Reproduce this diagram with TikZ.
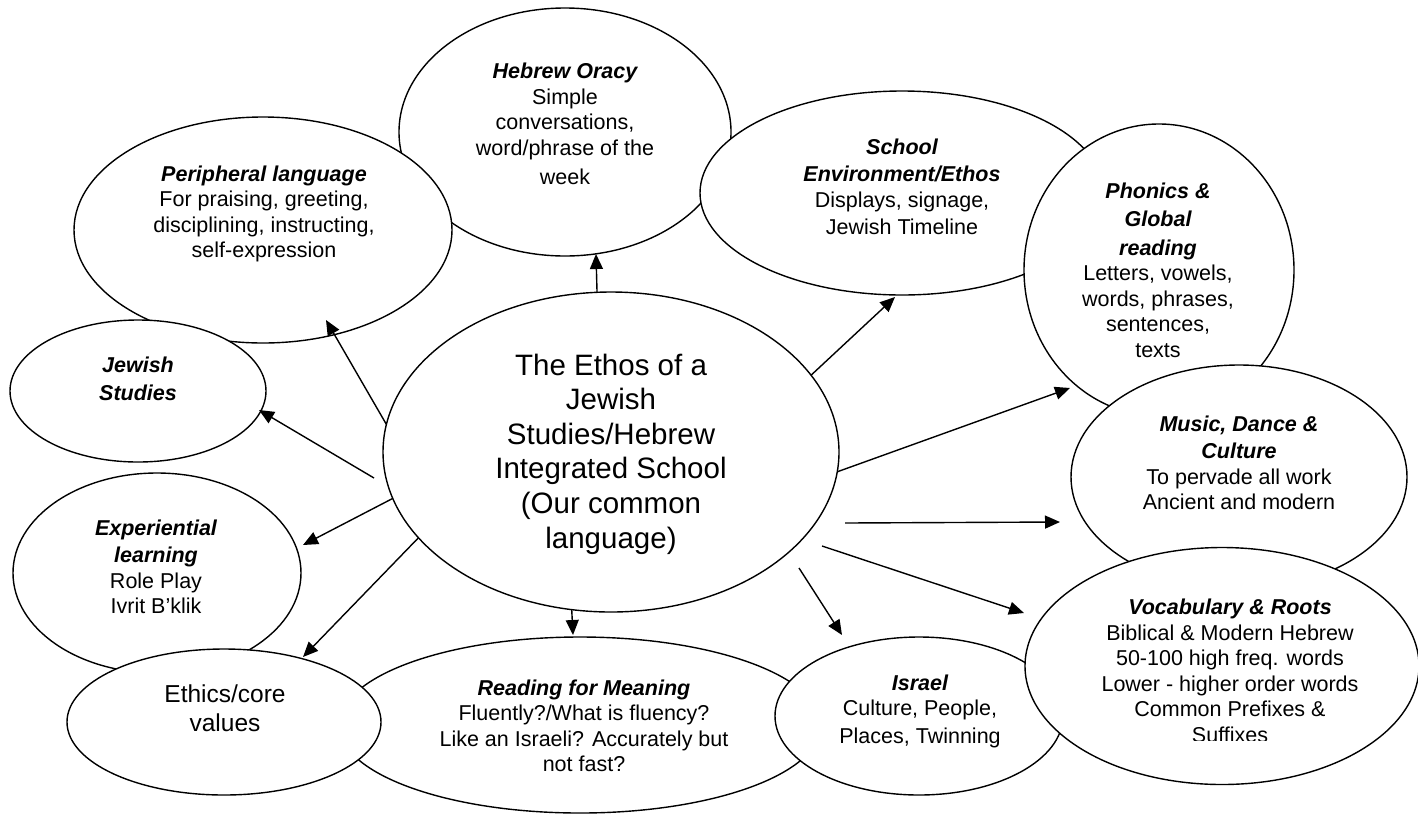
\documentclass[tikz,border=0pt]{standalone}
\usepackage{fontspec}
\setmainfont{Liberation Sans}
\usetikzlibrary{shapes.geometric,arrows.meta}
\newcommand\hd[1]{{\bfseries\itshape #1}}
\begin{document}
\begin{tikzpicture}[x=1pt,y=-1pt,
  bub/.style={ellipse,draw,fill=white,line width=1.4pt,inner sep=0pt,outer sep=0pt},
  txt/.style={align=center,font=\fontsize{21.5}{25.5}\selectfont,inner sep=0pt},
  bigtxt/.style={align=center,font=\fontsize{29.5}{34.6}\selectfont,inner sep=0pt},
  midtxt/.style={align=center,font=\fontsize{24.5}{29}\selectfont,inner sep=0pt},
  arr/.style={line width=1.4pt,-{Triangle[length=15pt,width=13pt]}}]
\useasboundingbox (0,0) rectangle (1418,815);
% Hebrew Oracy
\node[bub,minimum width=332pt,minimum height=248pt] (ho) at (565,132) {};
\node[txt] (hot) at (565,124) {\hd{Hebrew Oracy}\\Simple\\conversations,\\word/phrase of the\\[4pt]week};
% Peripheral language
\node[bub,minimum width=378pt,minimum height=226pt] (pl) at (263,230) {};
\node[txt] (plt) at (264,214) {\hd{Peripheral language}\\For praising, greeting,\\disciplining, instructing,\\self-expression};
% Jewish Studies
\node[bub,minimum width=256pt,minimum height=142pt] (js) at (138,391) {};
\node[txt] (jst) at (138,379) {\hd{Jewish}\\[2pt]\hd{Studies}};
% School Environment
\node[bub,minimum width=404pt,minimum height=204pt] (se) at (902,193) {};
\node[txt] (set) at (902,187) {\hd{School}\\[2pt]\hd{Environment/Ethos}\\Displays, signage,\\[2pt]Jewish Timeline};
% Phonics
\node[bub,minimum width=270pt,minimum height=292pt] (ph) at (1159,270) {};
\node[txt] (pht) at (1158,270) {\hd{Phonics \&}\\[3pt]\hd{Global}\\[3pt]\hd{reading}\\Letters, vowels,\\words, phrases,\\sentences,\\texts};
% Music
\node[bub,minimum width=336pt,minimum height=224pt] (mu) at (1239,477) {};
\node[txt] (mut) at (1239,463) {\hd{Music, Dance \&}\\[2pt]\hd{Culture}\\To pervade all work\\Ancient and modern};
% Reading for Meaning
\node[bub,minimum width=482pt,minimum height=176pt] (re) at (580,725) {};
\node[txt] (ret) at (584,726) {\hd{Reading for Meaning}\\Fluently?/What is fluency?\\Like an Israeli? Accurately but\\not fast?};
% Israel
\node[bub,minimum width=288pt,minimum height=158pt] (is) at (919,716) {};
\node[txt] (ist) at (920,711) {\hd{Israel}\\Culture, People,\\[2pt]Places, Twinning};
% Vocabulary
\node[bub,minimum width=394pt,minimum height=237pt] (vo) at (1222,666) {};
\begin{scope}
\clip (1000,540) rectangle (1418,740);
\node[txt] (vot) at (1230,671) {\hd{Vocabulary \& Roots}\\Biblical \& Modern Hebrew\\50-100 high freq. words\\Lower - higher order words\\Common Prefixes \&\\Suffixes};
\end{scope}
% Experiential
\node[bub,minimum width=288pt,minimum height=200pt] (ex) at (157,573) {};
\node[txt] (ext) at (156,567) {\hd{Experiential}\\[2pt]\hd{learning}\\Role Play\\Ivrit B’klik};
% Ethics
\node[bub,minimum width=314pt,minimum height=146pt] (et) at (224,722) {};
\node[midtxt] (ett) at (225,708) {Ethics/core\\values};
% Centre
\node[bub,minimum width=456pt,minimum height=320pt] (c) at (611,452) {};
\node[bigtxt] (ct) at (611,454) {The Ethos of a\\Jewish\\Studies/Hebrew\\Integrated School\\(Our common\\language)};
% arrow end points
\coordinate (tHO) at (596,254);
\coordinate (tPL) at (326,320);
\coordinate (tJS) at (259,410);
\coordinate (sJS) at (374,478);
\coordinate (tEX) at (303,545);
\coordinate (tET) at (303,657);
\coordinate (tRE) at (573,635);
\coordinate (tIS) at (842,635);
\coordinate (sIS) at (799,568);
\coordinate (tVO) at (1024,613);
\coordinate (sVO) at (822,546);
\coordinate (tMU) at (1060,522);
\coordinate (sMU) at (845,523);
\coordinate (tPH) at (1070,388);
\coordinate (tSE) at (895,297);
% arrows
\draw[arr] (c.95.4) -- (tHO);
\draw[arr] (c.173.1) -- (tPL);
\draw[arr] (sJS) -- (tJS);
\draw[arr] (c.192.7) -- (tEX);
\draw[arr] (c.204.6) -- (tET);
\draw[arr] (c.256.7) -- (tRE);
\draw[arr] (sIS) -- (tIS);
\draw[arr] (sVO) -- (tVO);
\draw[arr] (sMU) -- (tMU);
\draw[arr] (c.355) -- (tPH);
\draw[arr] (c.21.5) -- (tSE);
\end{tikzpicture}
\end{document}
